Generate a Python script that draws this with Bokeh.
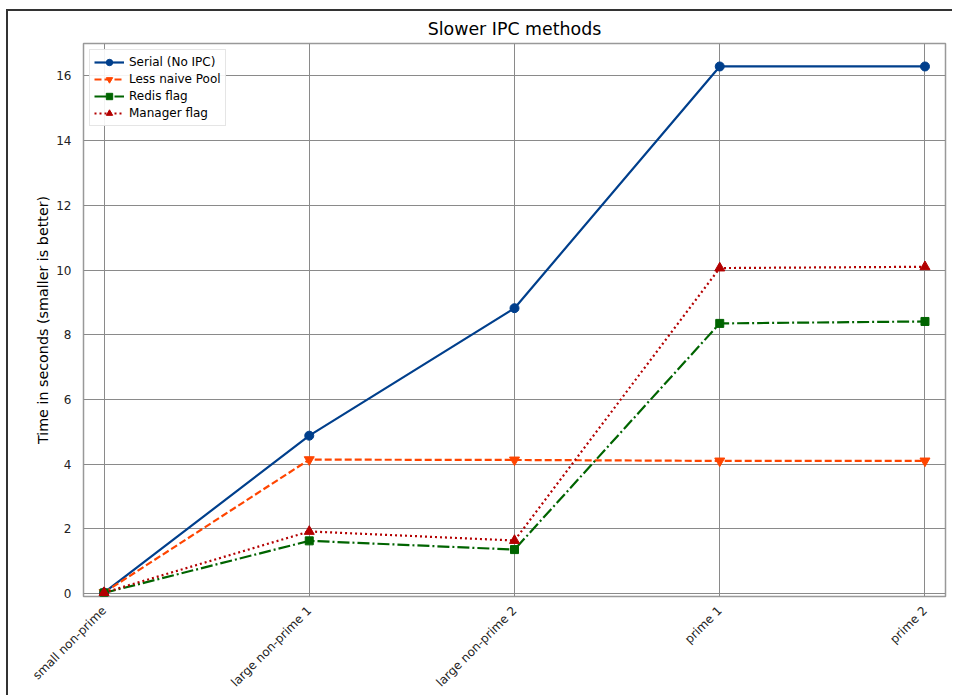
import math
from bokeh.plotting import figure
from bokeh.models import Range1d, FixedTicker, Legend, LegendItem
from bokeh.embed import file_html
from bokeh.resources import INLINE

categories = ["small non-prime", "large non-prime 1", "large non-prime 2", "prime 1", "prime 2"]
serial = [0.03, 4.88, 8.82, 16.29, 16.29]
less_naive_pool = [0.03, 4.14, 4.13, 4.10, 4.10]
redis_flag = [0.02, 1.63, 1.36, 8.35, 8.41]
manager_flag = [0.03, 1.92, 1.64, 10.06, 10.10]
y_ticks = [0, 2, 4, 6, 8, 10, 12, 14, 16]

FONT = "DejaVu Sans"
xs = list(range(len(categories)))

p = figure(width=946, height=686, output_backend="svg", toolbar_location=None,
           x_range=Range1d(-0.1, 4.1), y_range=Range1d(-0.09, 17.0),
           min_border_left=75, min_border_right=9, min_border_top=10, min_border_bottom=100)
p.styles = {"border-left": "2px solid #333333", "border-top": "2px solid #333333",
            "margin-left": "6px", "margin-top": "9px"}

p.title.text = "Slower IPC methods"
p.title.align = "center"
p.title.text_font = FONT
p.title.text_font_size = "17.4px"
p.title.text_font_style = "normal"
p.title.text_color = "#000000"

p.background_fill_color = "white"
p.border_fill_color = "white"
p.outline_line_color = "#999999"
p.outline_line_width = 1.5

p.xaxis.ticker = FixedTicker(ticks=xs)
p.xaxis.major_label_overrides = {i: c for i, c in enumerate(categories)}
p.xaxis.major_label_orientation = math.pi / 4
p.yaxis.ticker = FixedTicker(ticks=y_ticks)
p.yaxis.axis_label = "Time in seconds (smaller is better)"

for ax in (p.xaxis[0], p.yaxis[0]):
    ax.axis_line_color = None
    ax.major_tick_line_color = None
    ax.minor_tick_line_color = None
    ax.major_label_text_font = FONT
    ax.major_label_text_font_size = "12px"
    ax.major_label_text_color = "#222222"
    ax.axis_label_text_font = FONT
    ax.axis_label_text_font_size = "14.3px"
    ax.axis_label_text_font_style = "normal"
    ax.axis_label_text_color = "#000000"
    ax.major_label_standoff = 6
p.yaxis.axis_label_standoff = 2

p.xgrid.grid_line_color = "#8a8a8a"
p.ygrid.grid_line_color = "#8a8a8a"
p.xgrid.grid_line_width = 1
p.ygrid.grid_line_width = 1

series = [
    ("Serial (No IPC)", serial, "#003f8c", "solid", "circle", 9),
    ("Less naive Pool", less_naive_pool, "#ff4500", "7 3", "inverted_triangle", 10),
    ("Redis flag", redis_flag, "#006400", "12 3 2 3", "square", 8),
    ("Manager flag", manager_flag, "#b30000", "2 3", "triangle", 10),
]

items = []
for name, ys, color, dash, marker, size in series:
    l = p.line(xs, ys, line_color=color, line_width=2.2, line_dash=dash)
    s = p.scatter(xs, ys, marker=marker, size=size, fill_color=color, line_color=color)
    items.append(LegendItem(label=name, renderers=[l, s]))

legend = Legend(items=items, location="top_left")
legend.label_text_font = FONT
legend.label_text_font_size = "12px"
legend.label_text_color = "#000000"
legend.glyph_width = 30
legend.glyph_height = 16
legend.label_height = 16
legend.spacing = 1
legend.padding = 4
legend.margin = 6
legend.border_line_color = "#cccccc"
legend.border_line_width = 1
legend.background_fill_alpha = 0.9
p.add_layout(legend)

open("out.html", "w").write(file_html(p, INLINE))
